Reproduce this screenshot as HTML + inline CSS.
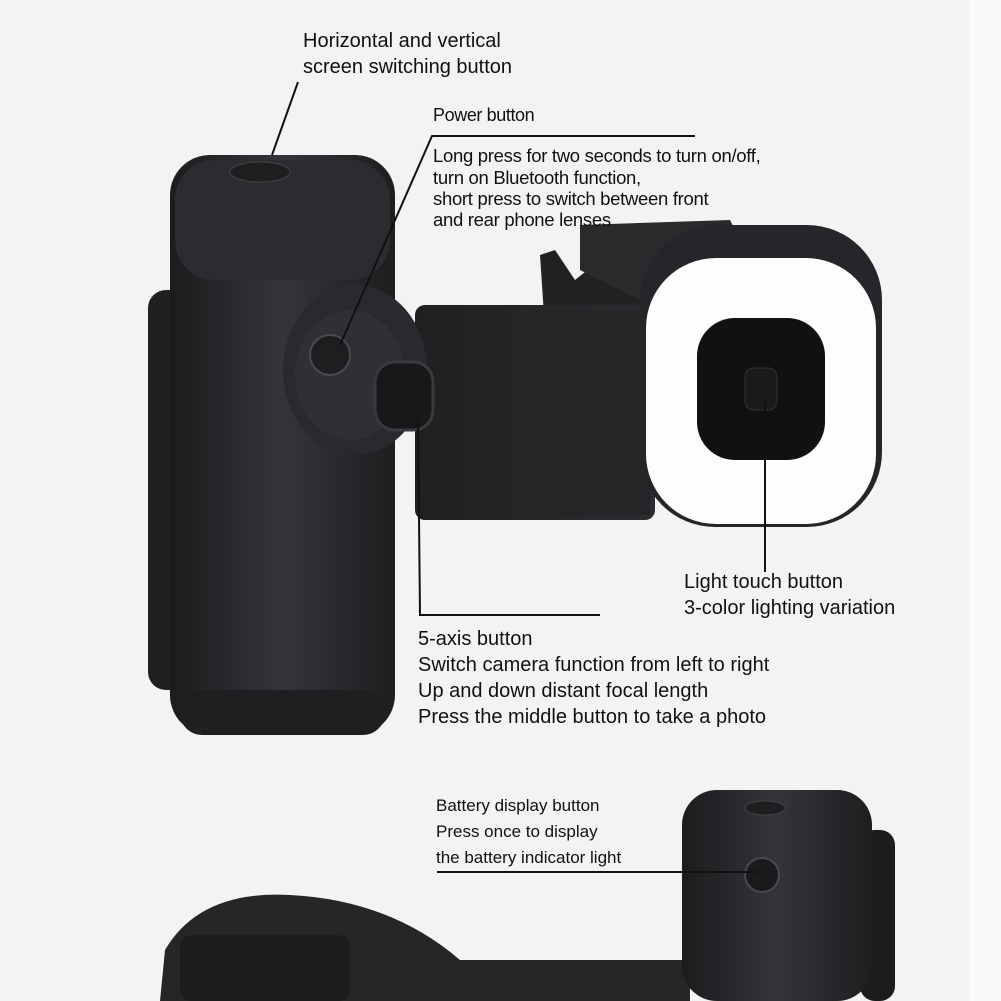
<!DOCTYPE html>
<html><head><meta charset="utf-8"><style>
html,body{margin:0;padding:0;width:1001px;height:1001px;overflow:hidden;background:#f3f3f3}
svg{display:block}
text{font-family:"Liberation Sans",sans-serif;fill:#111}
</style></head><body>
<svg width="1001" height="1001" viewBox="0 0 1001 1001" xmlns="http://www.w3.org/2000/svg">
<defs>
<linearGradient id="g1" x1="0" x2="1"><stop offset="0" stop-color="#1c1c1e"/><stop offset="0.5" stop-color="#34343a"/><stop offset="1" stop-color="#1e1e20"/></linearGradient>
<linearGradient id="g2" x1="0" x2="1"><stop offset="0" stop-color="#202022"/><stop offset="1" stop-color="#2c2c30"/></linearGradient>
</defs>
<rect x="970" y="0" width="31" height="1001" fill="#fafafa"/>
<path d="M540 255 L555 250 L575 280 L600 260 L650 300 L640 330 L545 330 Z" fill="#222"/>
<path d="M580 225 L730 220 L740 240 L640 300 L580 270 Z" fill="#2a2a2d"/>
<rect x="415" y="305" width="240" height="215" rx="10" fill="url(#g2)"/>
<rect x="520" y="310" width="130" height="205" fill="#252528"/>
<rect x="640" y="225" width="242" height="302" rx="75" fill="#26262a"/>
<rect x="646" y="258" width="230" height="266" rx="70" fill="#fdfdfd"/>
<rect x="697" y="318" width="128" height="142" rx="38" fill="#111"/>
<rect x="745" y="368" width="32" height="42" rx="9" fill="#1a1a1a" stroke="#333"/>
<rect x="148" y="290" width="70" height="400" rx="18" fill="#202022"/>
<rect x="170" y="155" width="225" height="580" rx="40" fill="url(#g1)"/>
<rect x="175" y="160" width="215" height="120" rx="40" fill="#2c2c30"/>
<rect x="180" y="690" width="205" height="45" rx="22" fill="#1f1f21"/>
<ellipse cx="260" cy="172" rx="30" ry="10" fill="#1e1e20" stroke="#444"/>
<ellipse cx="355" cy="370" rx="72" ry="85" fill="#2a2a2e"/>
<ellipse cx="350" cy="375" rx="55" ry="65" fill="#303034"/>
<circle cx="330" cy="355" r="20" fill="#1e1e20" stroke="#4a4a4e" stroke-width="2"/>
<rect x="375" y="362" width="58" height="68" rx="20" fill="#18181a" stroke="#3a3a3e" stroke-width="3"/>
<path d="M160 1001 L165 950 Q200 890 290 895 Q390 900 460 960 L690 960 L690 1001 Z" fill="#262628"/>
<rect x="180" y="935" width="170" height="66" rx="12" fill="#1d1d1f"/>
<rect x="860" y="830" width="35" height="171" rx="15" fill="#1c1c1e"/>
<rect x="682" y="790" width="190" height="211" rx="35" fill="url(#g1)"/>
<ellipse cx="765" cy="808" rx="20" ry="7" fill="#1e1e20" stroke="#444"/>
<circle cx="762" cy="875" r="17" fill="#1a1a1c" stroke="#4a4a4e" stroke-width="2"/>
<g stroke="#111" stroke-width="2" fill="none">
<polyline points="298,82 272,155"/>
<polyline points="695,136 432,136 340,345"/>
<polyline points="600,615 420,615 418,420"/>
<polyline points="765,400 765,572"/>
<polyline points="437,872 757,872"/>
</g>
<text x="303" y="47" font-size="20">Horizontal and vertical</text>
<text x="303" y="73" font-size="20">screen switching button</text>
<text x="433" y="121" font-size="18" letter-spacing="-0.4">Power button</text>
<text x="433" y="162" font-size="18.5" letter-spacing="-0.3">Long press for two seconds to turn on/off,</text>
<text x="433" y="184" font-size="18.5" letter-spacing="-0.3">turn on Bluetooth function,</text>
<text x="433" y="205" font-size="18.5" letter-spacing="-0.3">short press to switch between front</text>
<text x="433" y="226" font-size="18.5" letter-spacing="-0.3">and rear phone lenses</text>
<text x="684" y="588" font-size="20">Light touch button</text>
<text x="684" y="614" font-size="20">3-color lighting variation</text>
<text x="418" y="645" font-size="20">5-axis button</text>
<text x="418" y="671" font-size="20">Switch camera function from left to right</text>
<text x="418" y="697" font-size="20">Up and down distant focal length</text>
<text x="418" y="723" font-size="20">Press the middle button to take a photo</text>
<text x="436" y="811" font-size="17">Battery display button</text>
<text x="436" y="837" font-size="17">Press once to display</text>
<text x="436" y="863" font-size="17">the battery indicator light</text>
</svg>
</body></html>
